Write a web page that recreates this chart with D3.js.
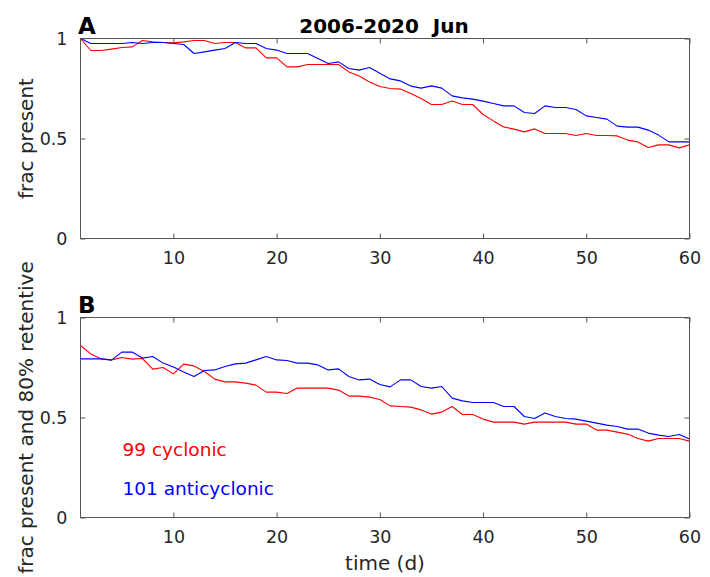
<!DOCTYPE html>
<html>
<head>
<meta charset="utf-8">
<script src="https://cdn.jsdelivr.net/npm/d3@7"></script>
<style>
  html, body { margin: 0; padding: 0; background: #fff; }
  svg { display: block; }
  text { font-family: "DejaVu Sans", sans-serif; }
</style>
</head>
<body>
<svg id="chart" width="710" height="577"></svg>
<script>
// ---- data ----
const days = d3.range(1, 61);
const xTicks = [10, 20, 30, 40, 50, 60];
const yTicks = [0, 0.5, 1];
const yTickLabels = ["0", "0.5", "1"];
const titleText = "2006-2020  Jun";
const seriesNames = ["99 cyclonic", "101 anticyclonic"];
const seriesColors = ["#ff0000", "#0000ff"];

const cyclonicPresent = [1.0,0.94,0.94,0.947,0.955,0.958,0.99,0.983,0.98,0.978,
  0.983,0.99,0.99,0.975,0.98,0.98,0.953,0.953,0.903,0.903,
  0.858,0.858,0.87,0.87,0.87,0.87,0.833,0.813,0.783,0.76,
  0.75,0.747,0.725,0.70,0.67,0.67,0.687,0.67,0.67,0.62,
  0.588,0.558,0.547,0.533,0.548,0.525,0.525,0.525,0.515,0.525,
  0.515,0.515,0.513,0.492,0.483,0.455,0.468,0.468,0.453,0.468];
const anticyclonicPresent = [1.0,0.975,0.975,0.975,0.975,0.98,0.975,0.98,0.98,0.975,
  0.97,0.925,0.933,0.942,0.95,0.98,0.975,0.975,0.95,0.942,
  0.925,0.925,0.925,0.9,0.875,0.883,0.85,0.842,0.855,0.826,
  0.798,0.788,0.762,0.752,0.763,0.752,0.713,0.703,0.697,0.687,
  0.675,0.663,0.663,0.63,0.625,0.663,0.655,0.655,0.645,0.613,
  0.605,0.597,0.562,0.557,0.557,0.542,0.517,0.483,0.483,0.483];
const cyclonicRetentive = [0.86,0.818,0.793,0.788,0.80,0.792,0.795,0.742,0.75,0.718,
  0.767,0.758,0.73,0.692,0.678,0.678,0.672,0.662,0.627,0.627,
  0.62,0.647,0.647,0.647,0.647,0.637,0.607,0.607,0.602,0.59,
  0.558,0.555,0.552,0.538,0.517,0.527,0.555,0.515,0.515,0.492,
  0.477,0.477,0.477,0.467,0.477,0.477,0.477,0.477,0.467,0.467,
  0.437,0.437,0.427,0.417,0.395,0.382,0.395,0.395,0.395,0.382];
const anticyclonicRetentive = [0.793,0.793,0.793,0.787,0.827,0.827,0.797,0.805,0.772,0.752,
  0.728,0.705,0.735,0.738,0.755,0.768,0.772,0.788,0.805,0.788,
  0.785,0.772,0.772,0.763,0.738,0.743,0.705,0.688,0.692,0.665,
  0.653,0.688,0.688,0.655,0.647,0.655,0.597,0.583,0.575,0.575,
  0.575,0.555,0.555,0.505,0.495,0.522,0.505,0.495,0.492,0.482,
  0.472,0.462,0.455,0.442,0.442,0.422,0.412,0.405,0.415,0.392];

// ---- layout ----
const svg = d3.select("#chart");
const left = 80.5, right = 689.5;
const x = d3.scaleLinear().domain([1, 60]).range([left, right]);

const panels = [
  { top: 38.5, bottom: 238.5, letter: "A", ylabel: "frac present",
    series: [cyclonicPresent, anticyclonicPresent] },
  { top: 317.5, bottom: 517.5, letter: "B", ylabel: "frac present and 80% retentive",
    series: [cyclonicRetentive, anticyclonicRetentive], legend: true, xlabel: "time (d)" }
];

const axisColor = "#555";
const textColor = "#262626";

panels.forEach((p, pi) => {
  const y = d3.scaleLinear().domain([0, 1]).range([p.bottom, p.top]);
  const g = svg.append("g");

  // lines
  const line = d3.line().x((d, i) => x(days[i])).y(d => y(d));
  p.series.forEach((s, si) => {
    g.append("path").datum(s)
      .attr("fill", "none")
      .attr("stroke", seriesColors[si])
      .attr("stroke-width", 1.1)
      .attr("stroke-linejoin", "round")
      .attr("d", line);
  });

  // axes (ticks inward)
  const axB = g.append("g").attr("transform", `translate(0,${p.bottom})`)
    .call(d3.axisBottom(x).tickValues(xTicks).tickSize(-5).tickPadding(13).tickFormat(d3.format("d")));
  const axT = g.append("g").attr("transform", `translate(0,${p.top})`)
    .call(d3.axisTop(x).tickValues(xTicks).tickSize(-5).tickFormat(""));
  const axL = g.append("g").attr("transform", `translate(${left},0)`)
    .call(d3.axisLeft(y).tickValues(yTicks).tickSize(-5).tickPadding(13).tickFormat((d, i) => yTickLabels[i]));
  const axR = g.append("g").attr("transform", `translate(${right},0)`)
    .call(d3.axisRight(y).tickValues(yTicks).tickSize(-5).tickFormat(""));
  [axB, axT, axL, axR].forEach(a => {
    a.select(".domain").remove();
    a.selectAll("line").attr("stroke", axisColor);
    a.selectAll("text").attr("fill", textColor).attr("font-size", "17.5px")
      .attr("font-family", "DejaVu Sans, sans-serif");
  });
  axB.selectAll("text").attr("dy", "0.71em");
  axL.selectAll("text").attr("dy", "0.36em");

  // box
  g.append("rect").attr("x", left).attr("y", p.top)
    .attr("width", right - left).attr("height", p.bottom - p.top)
    .attr("fill", "none").attr("stroke", axisColor).attr("stroke-width", 1);

  // panel letter
  g.append("text").attr("x", 78).attr("y", p.top - 5)
    .attr("font-size", "23px").attr("font-weight", "bold").attr("fill", "#000")
    .text(p.letter);

  // y label
  g.append("text")
    .attr("transform", `translate(33,${(p.top + p.bottom) / 2}) rotate(-90)`)
    .attr("text-anchor", "middle").attr("font-size", "20px").attr("fill", textColor)
    .text(p.ylabel);

  if (p.xlabel) {
    g.append("text").attr("x", (left + right) / 2).attr("y", 570)
      .attr("text-anchor", "middle").attr("font-size", "20px").attr("fill", textColor)
      .text(p.xlabel);
  }

  if (p.legend) {
    seriesNames.forEach((n, i) => {
      g.append("text").attr("x", 122.5).attr("y", 456 + i * 39)
        .attr("font-size", "18.5px").attr("fill", seriesColors[i])
        .text(n);
    });
  }
});

// title
svg.append("text").attr("x", 384).attr("y", 33)
  .attr("text-anchor", "middle").attr("font-size", "20px").attr("font-weight", "bold")
  .attr("fill", "#000").style("white-space", "pre").attr("xml:space", "preserve")
  .text(titleText);
</script>
</body>
</html>
